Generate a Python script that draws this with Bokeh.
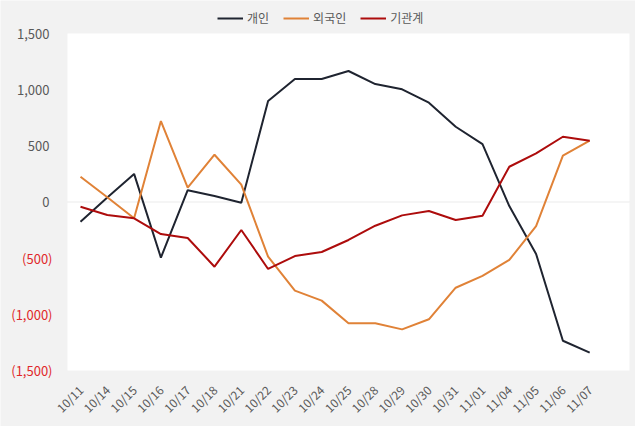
import math
from bokeh.plotting import figure
from bokeh.models import (Range1d, FixedTicker, LinearAxis, Legend, LegendItem,
                          CustomJSTickFormatter, BoxAnnotation)
from bokeh.embed import file_html
from bokeh.resources import INLINE

dates = ["10/11", "10/14", "10/15", "10/16", "10/17", "10/18", "10/21", "10/22", "10/23", "10/24",
         "10/25", "10/28", "10/29", "10/30", "10/31", "11/01", "11/04", "11/05", "11/06", "11/07"]
individual = [-175, 40, 250, -495, 105, 53, -6, 899, 1095, 1095,
              1166, 1050, 1003, 884, 670, 516, -36, -463, -1235, -1341]
foreign = [225, 42, -145, 721, 128, 421, 155, -487, -789, -878,
           -1080, -1080, -1134, -1044, -763, -658, -516, -214, 412, 546]
institution = [-42, -116, -145, -285, -320, -576, -249, -596, -481, -445,
               -338, -211, -119, -80, -160, -122, 314, 433, 581, 546]
pos_ticks = [0, 500, 1000, 1500]
neg_ticks = [-500, -1000, -1500]
Y_MIN, Y_MAX = -1500, 1500

FONT = "Noto Sans CJK KR"
GRAY = "#595959"
xs = list(range(len(dates)))
# plot-area extent (in category units) and the outer canvas range
X_LEFT, X_RIGHT = -0.485, 20.485

p = figure(width=635, height=426, output_backend="svg", toolbar_location=None,
           x_range=Range1d(-2.985, 20.709), y_range=Range1d(-1998.5, 1793.8),
           x_axis_location=None, y_axis_location=None,
           background_fill_color="#f2f2f2", border_fill_color="#f2f2f2",
           outline_line_color=None, min_border=0)
p.xgrid.visible = False
p.ygrid.visible = False

# white plot area and zero line
p.add_layout(BoxAnnotation(left=X_LEFT, right=X_RIGHT, bottom=Y_MIN, top=Y_MAX,
                           fill_color="#ffffff", fill_alpha=1, line_color=None, level="underlay"))
p.add_layout(BoxAnnotation(left=X_LEFT, right=X_RIGHT, bottom=0, top=0, fill_alpha=0,
                           line_color="#d9d9d9", line_width=1, level="underlay"))

r1 = p.line(xs, individual, line_color="#1f2430", line_width=2)
r2 = p.line(xs, foreign, line_color="#e08237", line_width=2)
r3 = p.line(xs, institution, line_color="#ad0c0c", line_width=2)

xa = LinearAxis(ticker=FixedTicker(ticks=xs), fixed_location=Y_MIN,
                major_label_overrides={i: d for i, d in enumerate(dates)},
                major_label_orientation=math.pi / 4,
                axis_line_color=None, major_tick_line_color=None, minor_tick_line_color=None,
                major_label_text_color=GRAY, major_label_text_font=FONT,
                major_label_text_font_size="12px", major_label_standoff=11)
p.add_layout(xa, "below")

fmt = CustomJSTickFormatter(code="""
const s = Math.abs(tick).toLocaleString('en-US');
return tick < 0 ? '(' + s + ')' : s;
""")

ya_pos = LinearAxis(ticker=FixedTicker(ticks=pos_ticks), formatter=fmt, fixed_location=X_LEFT,
                    axis_line_color=None, major_tick_line_color=None, minor_tick_line_color=None,
                    major_label_text_color=GRAY, major_label_text_font=FONT,
                    major_label_text_font_size="13px", major_label_standoff=12)
p.add_layout(ya_pos, "left")
ya_neg = LinearAxis(ticker=FixedTicker(ticks=neg_ticks), formatter=fmt, fixed_location=X_LEFT,
                    axis_line_color=None, major_tick_line_color=None, minor_tick_line_color=None,
                    major_label_text_color="#e0282a", major_label_text_font=FONT,
                    major_label_text_font_size="13px", major_label_standoff=9)
p.add_layout(ya_neg, "left")

legend = Legend(items=[LegendItem(label="개인", renderers=[r1]),
                       LegendItem(label="외국인", renderers=[r2]),
                       LegendItem(label="기관계", renderers=[r3])],
                orientation="horizontal", location=(217, 400),
                border_line_color=None, background_fill_alpha=0,
                label_text_font=FONT, label_text_font_size="12px", label_text_color=GRAY,
                glyph_width=26, glyph_height=12, label_standoff=4, spacing=14,
                padding=0, margin=0, label_height=14)
p.add_layout(legend, "center")

open("out.html", "w").write(file_html(p, INLINE))
